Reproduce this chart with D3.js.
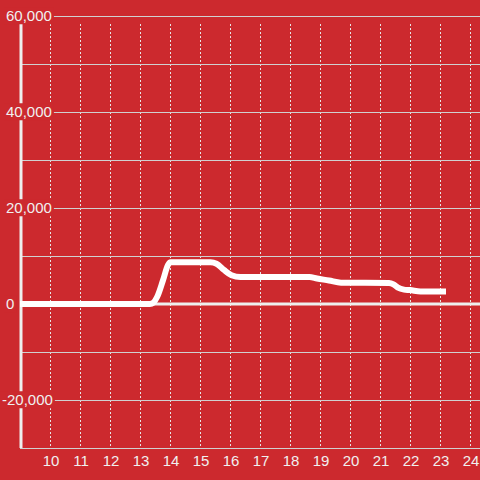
<!DOCTYPE html>
<html>
<head>
<meta charset="utf-8">
<script src="https://cdn.jsdelivr.net/npm/d3@7"></script>
<style>
  html, body { margin: 0; padding: 0; background: #cc292e; }
  svg { display: block; font-family: "Liberation Sans", Arial, sans-serif; }
</style>
</head>
<body>
<svg id="chart" width="480" height="480"></svg>
<script>
// time of day (hours) and value
const hours = [9, 13.33, 13.45, 13.57, 13.77, 13.93, 14.02, 15.35, 15.55, 15.8, 16.05, 16.35, 18.65, 18.9, 19.3, 19.7, 21.3, 21.45, 21.6, 21.8, 22.0, 22.35, 23.2];
const values = [0, 0, 300, 1450, 5000, 8100, 8700, 8700, 8400, 7100, 6000, 5600, 5600, 5300, 4900, 4450, 4400, 4100, 3400, 3000, 2900, 2600, 2600];
const xTicks = [10, 11, 12, 13, 14, 15, 16, 17, 18, 19, 20, 21, 22, 23, 24];
const yGrid = [60000, 50000, 40000, 30000, 20000, 10000, 0, -10000, -20000, -30000];
const yLabels = [60000, 40000, 20000, 0, -20000];

const bg = '#cc292e';
const svg = d3.select('#chart');
const width = 480, height = 480;
const margin = { top: 16, right: 0, bottom: 32, left: 20 };

const x = d3.scaleLinear().domain([9, 24 + 1 / 3]).range([margin.left, width - margin.right]);
const y = d3.scaleLinear().domain([-30000, 60000]).range([height - margin.bottom, margin.top]);
const fmt = d3.format(',');

svg.append('rect').attr('width', width).attr('height', height).attr('fill', bg);

// vertical dashed grid
svg.append('g').selectAll('line').data(xTicks).join('line')
  .attr('x1', d => Math.round(x(d)) + 0.5)
  .attr('x2', d => Math.round(x(d)) + 0.5)
  .attr('y1', 24)
  .attr('y2', y(-30000) - 2)
  .attr('stroke', '#e6e6e6')
  .attr('stroke-width', 1)
  .attr('stroke-dasharray', '2,2');

// horizontal grid
svg.append('g').selectAll('line').data(yGrid.filter(d => d !== 0)).join('line')
  .attr('x1', margin.left)
  .attr('x2', width)
  .attr('y1', d => Math.round(y(d)) + 0.5)
  .attr('y2', d => Math.round(y(d)) + 0.5)
  .attr('stroke', '#d0d0d0')
  .attr('stroke-width', 1);

// y axis line
svg.append('line')
  .attr('x1', 21).attr('x2', 21)
  .attr('y1', y(60000)).attr('y2', y(-30000))
  .attr('stroke', '#eeeeee')
  .attr('stroke-width', 3);

// zero line
svg.append('line')
  .attr('x1', margin.left).attr('x2', width)
  .attr('y1', y(0)).attr('y2', y(0))
  .attr('stroke', '#eeeeee')
  .attr('stroke-width', 3);

// data line
const pts = hours.map((h, i) => ({ h, v: values[i] }));
const line = d3.line().x(d => x(d.h)).y(d => y(d.v)).curve(d3.curveMonotoneX);
svg.append('path')
  .datum(pts)
  .attr('d', line)
  .attr('fill', 'none')
  .attr('stroke', '#ffffff')
  .attr('stroke-width', 6)
  .attr('stroke-linejoin', 'round');

// y labels with background
const yl = svg.append('g').selectAll('g').data(yLabels).join('g');
yl.append('text')
  .attr('x', d => d < 0 ? 2 : 6)
  .attr('y', d => y(d))
  .attr('dy', '0.35em')
  .attr('fill', '#f0f0f0')
  .attr('font-size', 15)
  .text(d => fmt(d).replace('−', '-'));
yl.each(function () {
  const g = d3.select(this);
  const bb = g.select('text').node().getBBox();
  g.insert('rect', 'text')
    .attr('x', bb.x - 2)
    .attr('y', bb.y)
    .attr('width', bb.width + 4)
    .attr('height', bb.height)
    .attr('fill', bg);
});

// x labels
svg.append('g').selectAll('text').data(xTicks).join('text')
  .attr('x', d => x(d) + 1)
  .attr('y', 461)
  .attr('dy', '0.35em')
  .attr('text-anchor', 'middle')
  .attr('fill', '#f0f0f0')
  .attr('font-size', 15)
  .text(d => d);
</script>
</body>
</html>
